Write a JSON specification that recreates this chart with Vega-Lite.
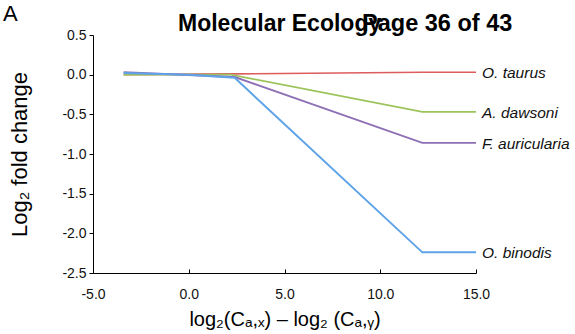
{
  "$schema": "https://vega.github.io/schema/vega-lite/v6.json",
  "width": 383,
  "height": 238,
  "autosize": "none",
  "padding": {"left": 93, "top": 35, "right": 99, "bottom": 61},
  "config": {"view": {"stroke": null}, "font": "Liberation Sans"},
  "title": {"text": "A", "anchor": "start", "frame": "group", "fontSize": 22, "fontWeight": "normal", "color": "#000", "dx": -90, "baseline": "top", "dy": 14, "offset": 0},
  "datasets": {
    "lines": [
      {"species": "O. taurus", "x": -3.4, "y": 0.0},
      {"species": "O. taurus", "x": 2.3, "y": 0.01},
      {"species": "O. taurus", "x": 12.2, "y": 0.03},
      {"species": "O. taurus", "x": 15, "y": 0.03},
      {"species": "A. dawsoni", "x": -3.4, "y": 0.0},
      {"species": "A. dawsoni", "x": 2.2, "y": 0.0},
      {"species": "A. dawsoni", "x": 12.2, "y": -0.47},
      {"species": "A. dawsoni", "x": 15, "y": -0.47},
      {"species": "F. auricularia", "x": -3.4, "y": 0.03},
      {"species": "F. auricularia", "x": 2.4, "y": -0.03},
      {"species": "F. auricularia", "x": 12.2, "y": -0.86},
      {"species": "F. auricularia", "x": 15, "y": -0.86},
      {"species": "O. binodis", "x": -3.4, "y": 0.02},
      {"species": "O. binodis", "x": 0, "y": 0.0},
      {"species": "O. binodis", "x": 2.4, "y": -0.04},
      {"species": "O. binodis", "x": 12.2, "y": -2.24},
      {"species": "O. binodis", "x": 15, "y": -2.24}
    ],
    "header": [
      {"text": "Molecular Ecology", "x": -0.56, "size": 23},
      {"text": "Page 36 of 43", "x": 9.05, "size": 23.5}
    ]
  },
  "layer": [
    {
      "data": {"name": "lines"},
      "mark": {"type": "line", "clip": false},
      "encoding": {
        "x": {"field": "x", "type": "quantitative", "scale": {"domain": [-5, 15], "nice": false, "zero": false},
          "axis": {"values": [-5, 0, 5, 10, 15], "tickCount": 20, "format": ".1f", "labelExpr": "replace(datum.label, '−', '-')", "labelOverlap": false, "labelFlush": false, "labelBound": false, "grid": false, "domainColor": "#000", "tickColor": "#000", "tickSize": -4, "labelPadding": 18, "labelFontSize": 14, "labelColor": "#111", "labelBaseline": "top",
            "title": "log₂(Cₐ,ₓ) – log₂ (Cₐ,ᵧ)", "titleFontSize": 20, "titleFontWeight": "normal", "titleColor": "#000", "titlePadding": 8}},
        "y": {"field": "y", "type": "quantitative", "scale": {"domain": [-2.5, 0.5], "nice": false, "zero": false},
          "axis": {"values": [0.5, 0, -0.5, -1, -1.5, -2, -2.5], "tickCount": 20, "format": ".1f", "labelExpr": "replace(datum.label, '−', '-')", "labelOverlap": false, "labelFlush": false, "labelBound": false, "grid": false, "domainColor": "#000", "tickColor": "#000", "tickSize": 4, "labelPadding": 3, "labelFontSize": 14, "labelColor": "#111",
            "title": "Log₂ fold change", "titleFontSize": 22, "titleFontWeight": "normal", "titleColor": "#000", "titlePadding": 30}},
        "color": {"field": "species", "type": "nominal", "legend": null,
          "scale": {"domain": ["O. taurus", "A. dawsoni", "F. auricularia", "O. binodis"], "range": ["#dd5c5c", "#9dc35b", "#8d6fb5", "#5fa3e8"]}},
        "strokeWidth": {"field": "species", "type": "nominal", "legend": null,
          "scale": {"domain": ["O. taurus", "A. dawsoni", "F. auricularia", "O. binodis"], "range": [1.6, 2, 2, 3]}}
      }
    },
    {
      "data": {"name": "lines"},
      "transform": [{"filter": "datum.x == 15"}],
      "mark": {"type": "text", "align": "left", "baseline": "middle", "dx": 6, "dy": 1, "fontSize": 15.5, "fontStyle": "italic", "color": "#111"},
      "encoding": {
        "x": {"field": "x", "type": "quantitative"},
        "y": {"field": "y", "type": "quantitative"},
        "text": {"field": "species"}
      }
    },
    {
      "data": {"name": "header"},
      "mark": {"type": "text", "align": "left", "baseline": "alphabetic", "fontWeight": "bold", "color": "#000", "dy": -4},
      "encoding": {"x": {"field": "x", "type": "quantitative"}, "y": {"datum": 0.5}, "text": {"field": "text"},
        "size": {"field": "size", "type": "quantitative", "scale": null, "legend": null}}
    }
  ]
}
